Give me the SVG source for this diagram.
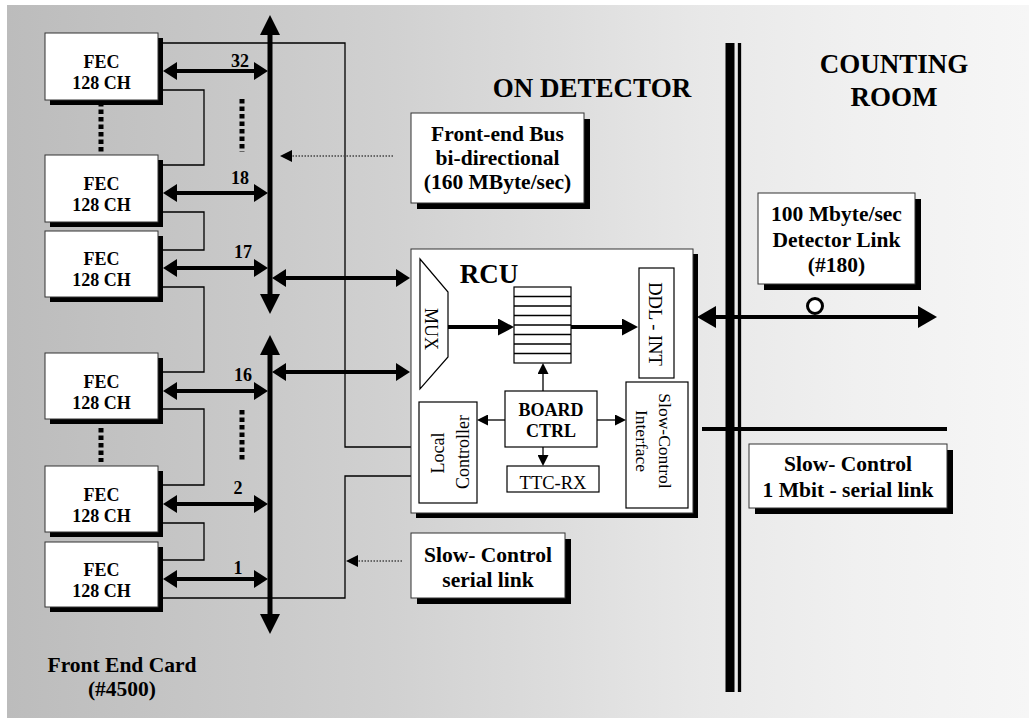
<svg xmlns="http://www.w3.org/2000/svg" width="1029" height="719" viewBox="0 0 1029 719">
<style>
.b{font-family:"Liberation Serif","Times New Roman",serif;font-weight:bold;text-anchor:middle;fill:#000}
.r{font-family:"Liberation Serif","Times New Roman",serif;font-weight:normal;text-anchor:middle;fill:#000}
.fec{font-size:18px}
.lbl{font-size:21.5px}
.big{font-size:27px}
.box{fill:#fff;stroke:#333;stroke-width:1}
.sh{fill:#000}
.ibox{fill:#fff;stroke:#000;stroke-width:1.2}
.thin{fill:none;stroke:#000;stroke-width:1.3}
.bus{stroke:#000;stroke-width:5;fill:none}
.harr{stroke:#000;stroke-width:4;fill:none}
.sarr{stroke:#000;stroke-width:1.3;fill:none}
.dot{stroke:#444;stroke-width:1.3;stroke-dasharray:1.5 1.5;fill:none}
.vdots{stroke:#000;stroke-width:5;stroke-dasharray:4.5 3;fill:none}
</style>
<defs>
<linearGradient id="bg" x1="0" y1="0" x2="1" y2="0">
<stop offset="0" stop-color="#bcbcbc"/>
<stop offset="0.24" stop-color="#c9c9c9"/>
<stop offset="0.38" stop-color="#d1d1d1"/>
<stop offset="0.53" stop-color="#dcdcdc"/>
<stop offset="0.68" stop-color="#e8e8e8"/>
<stop offset="0.83" stop-color="#f0f0f0"/>
<stop offset="1" stop-color="#f6f6f6"/>
</linearGradient>
<marker id="mBus" markerUnits="userSpaceOnUse" markerWidth="20" markerHeight="20" refX="1" refY="10" orient="auto-start-reverse"><path d="M0,0 L20,10 L0,20 z" fill="#000"/></marker>
<marker id="mH" markerUnits="userSpaceOnUse" markerWidth="14" markerHeight="18" refX="1" refY="9" orient="auto-start-reverse"><path d="M0,0 L14,9 L0,18 z" fill="#000"/></marker>
<marker id="mIn" markerUnits="userSpaceOnUse" markerWidth="16" markerHeight="17" refX="1" refY="8.5" orient="auto-start-reverse"><path d="M0,0 L16,8.5 L0,17 z" fill="#000"/></marker>
<marker id="mS" markerUnits="userSpaceOnUse" markerWidth="11" markerHeight="11" refX="1" refY="5.5" orient="auto-start-reverse"><path d="M0,0 L11,5.5 L0,11 z" fill="#000"/></marker>
<marker id="mDot" markerUnits="userSpaceOnUse" markerWidth="12" markerHeight="12" refX="1" refY="6" orient="auto-start-reverse"><path d="M0,0 L12,6 L0,12 z" fill="#000"/></marker>
<marker id="mLink" markerUnits="userSpaceOnUse" markerWidth="19" markerHeight="22" refX="1" refY="11" orient="auto-start-reverse"><path d="M0,0 L19,11 L0,22 z" fill="#000"/></marker>
</defs>

<rect x="0" y="0" width="1029" height="719" fill="#fff"/>
<rect x="7" y="5" width="1022" height="713" fill="url(#bg)"/>

<g id="titles">
<text class="b big" x="592" y="97">ON DETECTOR</text>
<text class="b big" x="894" y="73">COUNTING</text>
<text class="b big" x="894" y="106">ROOM</text>
<text class="b lbl" x="122" y="672">Front End Card</text>
<text class="b lbl" x="122" y="696">(#4500)</text>
</g>

<g id="connectors">
<!-- slow control daisy chain -->
<polyline class="thin" points="160,43 345,43 345,447 411,447"/>
<polyline class="thin" points="160,90 204,90 204,165 160,165"/>
<polyline class="thin" points="160,212 204,212 204,250 160,250"/>
<polyline class="thin" points="160,287 204,287 204,372 160,372"/>
<polyline class="thin" points="160,409 204,409 204,485 160,485"/>
<polyline class="thin" points="160,523 204,523 204,560 160,560"/>
<polyline class="thin" points="160,598 345,598 345,476 411,476"/>
<!-- buses -->
<line class="bus" x1="270" y1="34" x2="270" y2="295" marker-start="url(#mBus)" marker-end="url(#mBus)"/>
<line class="bus" x1="270" y1="354" x2="270" y2="615" marker-start="url(#mBus)" marker-end="url(#mBus)"/>
<!-- FEC to bus -->
<line class="harr" x1="176" y1="71" x2="255" y2="71" marker-start="url(#mH)" marker-end="url(#mH)"/>
<line class="harr" x1="176" y1="193" x2="255" y2="193" marker-start="url(#mH)" marker-end="url(#mH)"/>
<line class="harr" x1="176" y1="268" x2="255" y2="268" marker-start="url(#mH)" marker-end="url(#mH)"/>
<line class="harr" x1="176" y1="391" x2="255" y2="391" marker-start="url(#mH)" marker-end="url(#mH)"/>
<line class="harr" x1="176" y1="504" x2="255" y2="504" marker-start="url(#mH)" marker-end="url(#mH)"/>
<line class="harr" x1="176" y1="579" x2="255" y2="579" marker-start="url(#mH)" marker-end="url(#mH)"/>
<!-- bus to RCU -->
<line class="harr" x1="285" y1="278" x2="397" y2="278" marker-start="url(#mH)" marker-end="url(#mH)"/>
<line class="harr" x1="285" y1="372" x2="397" y2="372" marker-start="url(#mH)" marker-end="url(#mH)"/>
<!-- dotted continuation -->
<line class="vdots" x1="101" y1="102" x2="101" y2="152"/>
<line class="vdots" x1="101" y1="428" x2="101" y2="462"/>
<line class="vdots" x1="242" y1="99" x2="242" y2="152"/>
<line class="vdots" x1="242" y1="410" x2="242" y2="462"/>
<!-- label pointers -->
<line class="dot" x1="393" y1="156" x2="291" y2="156" marker-end="url(#mDot)"/>
<line class="dot" x1="402" y1="561" x2="357" y2="561" marker-end="url(#mDot)"/>
<!-- numbers -->
<text class="b fec" x="240" y="67">32</text>
<text class="b fec" x="240" y="184">18</text>
<text class="b fec" x="243" y="258">17</text>
<text class="b fec" x="243" y="381">16</text>
<text class="b fec" x="238" y="494">2</text>
<text class="b fec" x="238" y="574">1</text>
</g>

<g id="fec1"><rect class="sh" x="50" y="38" width="113" height="67"/><rect class="box" x="45" y="33" width="113" height="67"/><text class="b fec" x="101.5" y="68">FEC</text><text class="b fec" x="101.5" y="89">128 CH</text></g>
<g id="fec2"><rect class="sh" x="50" y="160" width="113" height="67"/><rect class="box" x="45" y="155" width="113" height="67"/><text class="b fec" x="101.5" y="190">FEC</text><text class="b fec" x="101.5" y="211">128 CH</text></g>
<g id="fec3"><rect class="sh" x="50" y="236" width="113" height="66"/><rect class="box" x="45" y="231" width="113" height="66"/><text class="b fec" x="101.5" y="265">FEC</text><text class="b fec" x="101.5" y="286">128 CH</text></g>
<g id="fec4"><rect class="sh" x="50" y="358" width="113" height="66"/><rect class="box" x="45" y="353" width="113" height="66"/><text class="b fec" x="101.5" y="388">FEC</text><text class="b fec" x="101.5" y="409">128 CH</text></g>
<g id="fec5"><rect class="sh" x="50" y="471" width="113" height="66"/><rect class="box" x="45" y="466" width="113" height="66"/><text class="b fec" x="101.5" y="501">FEC</text><text class="b fec" x="101.5" y="522">128 CH</text></g>
<g id="fec6"><rect class="sh" x="50" y="547" width="113" height="65"/><rect class="box" x="45" y="542" width="113" height="65"/><text class="b fec" x="101.5" y="576">FEC</text><text class="b fec" x="101.5" y="597">128 CH</text></g>

<g id="frontend-bus-label"><rect class="sh" x="417" y="119" width="173" height="90"/><rect class="box" x="411" y="113" width="173" height="90"/>
<text class="b lbl" x="497.5" y="141">Front-end Bus</text><text class="b lbl" x="497.5" y="165">bi-directional</text><text class="b lbl" x="497.5" y="189">(160 MByte/sec)</text></g>

<g id="slow-control-serial-label"><rect class="sh" x="417" y="539" width="154" height="65"/><rect class="box" x="411" y="533" width="154" height="65"/>
<text class="b lbl" x="488" y="562">Slow- Control</text><text class="b lbl" x="488" y="587">serial link</text></g>

<g id="rcu">
<rect class="sh" x="416" y="254" width="282" height="264"/>
<rect class="box" x="411" y="249" width="282" height="264"/>
<text class="b big" x="489" y="283">RCU</text>
<g id="mux"><polygon class="ibox" points="420,259 448,292 448,357 420,389"/><text class="r" font-size="18" transform="translate(425,329) rotate(90)">MUX</text></g>
<g id="fifo"><rect class="ibox" x="514" y="287" width="57" height="76"/>
<path class="thin" stroke-width="1" d="M514,296.5H571M514,306H571M514,315.5H571M514,325H571M514,334.5H571M514,344H571M514,353.5H571"/></g>
<g id="ddl-int"><rect class="ibox" x="639" y="268" width="35" height="110"/><text class="r" font-size="18.5" transform="translate(649,324) rotate(90)">DDL - INT</text></g>
<g id="board-ctrl"><rect class="ibox" x="505" y="391" width="92" height="56"/><text class="b fec" x="551" y="416">BOARD</text><text class="b fec" x="551" y="437">CTRL</text></g>
<g id="ttc-rx"><rect class="ibox" x="507" y="466" width="92" height="26"/><text class="r" font-size="18.5" x="553" y="488.5">TTC-RX</text></g>
<g id="local-controller"><rect class="ibox" x="419" y="402" width="58" height="101"/><text class="r" font-size="18" transform="translate(444,453) rotate(-90)">Local</text><text class="r" font-size="18" transform="translate(469,452) rotate(-90)">Controller</text></g>
<g id="slow-control-interface"><rect class="ibox" x="626" y="382" width="62" height="126"/><text class="r" font-size="17.5" transform="translate(659,441) rotate(90)">Slow-Control</text><text class="r" font-size="17.5" transform="translate(636,441) rotate(90)">Interface</text></g>
<g id="rcu-arrows">
<line class="harr" x1="448" y1="327" x2="499" y2="327" marker-end="url(#mIn)"/>
<line class="harr" x1="571" y1="327" x2="623" y2="327" marker-end="url(#mIn)"/>
<line class="sarr" x1="543" y1="391" x2="543" y2="373" marker-end="url(#mS)"/>
<line class="sarr" x1="543" y1="447" x2="543" y2="456" marker-end="url(#mS)"/>
<line class="sarr" x1="505" y1="420" x2="487" y2="420" marker-end="url(#mS)"/>
<line class="sarr" x1="597" y1="420" x2="616" y2="420" marker-end="url(#mS)"/>
</g>
</g>

<g id="divider">
<line x1="730" y1="43" x2="730" y2="692" stroke="#000" stroke-width="9"/>
<line x1="739.5" y1="43" x2="739.5" y2="692" stroke="#000" stroke-width="3.3"/>
</g>

<g id="links">
<line class="harr" x1="715" y1="317" x2="919" y2="317" marker-start="url(#mLink)" marker-end="url(#mLink)"/>
<circle cx="815" cy="306" r="7.5" fill="#fff" stroke="#000" stroke-width="3"/>
<line x1="702" y1="429" x2="947" y2="429" stroke="#000" stroke-width="4"/>
</g>

<g id="detector-link-label"><rect class="sh" x="764" y="199" width="157" height="91"/><rect class="box" x="758" y="193" width="157" height="91"/>
<text class="b lbl" x="836.5" y="221">100 Mbyte/sec</text><text class="b lbl" x="836.5" y="247">Detector Link</text><text class="b lbl" x="836.5" y="272">(#180)</text></g>

<g id="slow-control-link-label"><rect class="sh" x="755" y="450" width="198" height="64"/><rect class="box" x="749" y="444" width="198" height="64"/>
<text class="b lbl" x="848" y="471">Slow- Control</text><text class="b lbl" x="848" y="497">1 Mbit - serial link</text></g>
</svg>
